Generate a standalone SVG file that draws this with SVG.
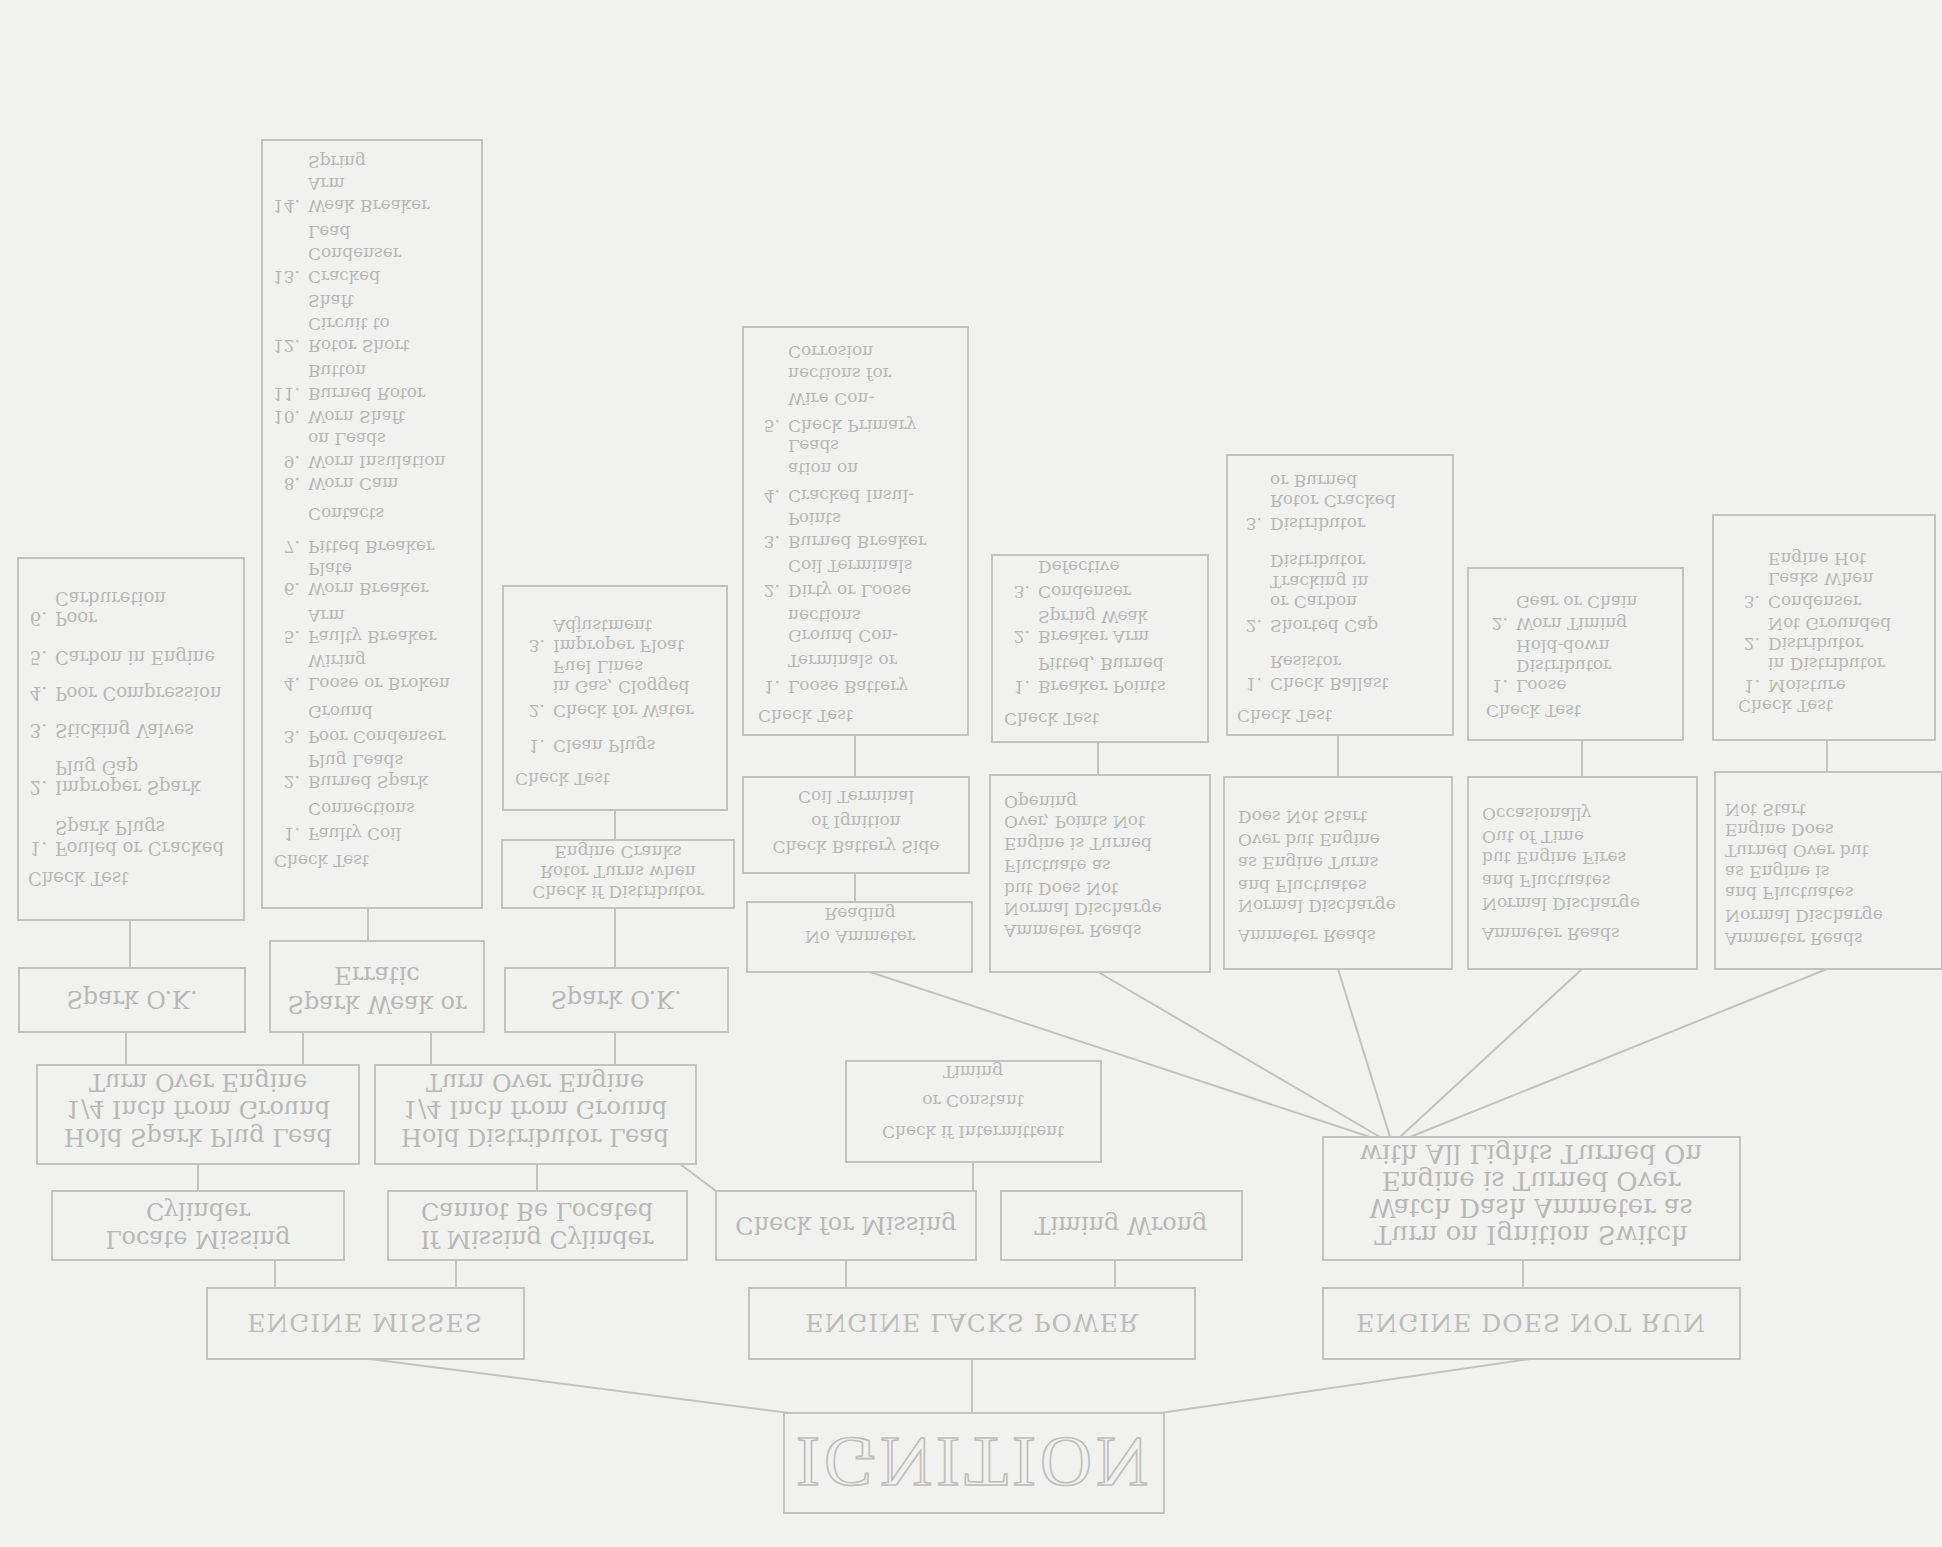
<svg xmlns="http://www.w3.org/2000/svg" width="1942" height="1547" viewBox="0 0 1942 1547">
<style>
  .bx{fill:none;stroke:#c2c2c0;stroke-width:2}
  .ln{fill:none;stroke:#c2c2c0;stroke-width:2}
  .t{font-family:"DejaVu Serif",serif;fill:#b8b8b6;font-size:17px}
  .tl{font-family:"DejaVu Serif",serif;fill:#b8b8b6;font-size:18px}
  .c{text-anchor:middle}
  .n{text-anchor:end}
  .s{font-family:"DejaVu Serif",serif;fill:#b8b8b6;font-size:24px;text-anchor:middle}
  .h{font-family:"DejaVu Serif",serif;fill:#b8b8b6;font-size:24px;text-anchor:middle}
  .hb{font-family:"DejaVu Serif",serif;fill:#b8b8b6;font-size:26px;text-anchor:middle}
  .cap{font-family:"DejaVu Serif",serif;fill:#bcbcba;font-size:25px;text-anchor:middle;letter-spacing:1px}
</style>
<rect width="1942" height="1547" fill="#f1f1ef"/>

<!-- connectors -->
<g id="connectors" class="ln">
  <line x1="130" y1="920" x2="130" y2="968"/>
  <line x1="368" y1="908" x2="368" y2="941"/>
  <line x1="615" y1="810" x2="615" y2="840"/>
  <line x1="615" y1="908" x2="615" y2="968"/>
  <line x1="855" y1="735" x2="855" y2="777"/>
  <line x1="855" y1="873" x2="855" y2="902"/>
  <line x1="1098" y1="742" x2="1098" y2="775"/>
  <line x1="1338" y1="735" x2="1338" y2="777"/>
  <line x1="1582" y1="740" x2="1582" y2="777"/>
  <line x1="1827" y1="740" x2="1827" y2="772"/>
  <line x1="126" y1="1032" x2="126" y2="1065"/>
  <line x1="303" y1="1032" x2="303" y2="1065"/>
  <line x1="431" y1="1032" x2="431" y2="1065"/>
  <line x1="615" y1="1032" x2="615" y2="1065"/>
  <line x1="198" y1="1164" x2="198" y2="1191"/>
  <line x1="537" y1="1164" x2="537" y2="1191"/>
  <line x1="973" y1="1162" x2="973" y2="1191"/>
  <line x1="275" y1="1260" x2="275" y2="1288"/>
  <line x1="456" y1="1260" x2="456" y2="1288"/>
  <line x1="846" y1="1260" x2="846" y2="1288"/>
  <line x1="1115" y1="1260" x2="1115" y2="1288"/>
  <line x1="1523" y1="1260" x2="1523" y2="1288"/>
  <line x1="870" y1="972" x2="1370" y2="1137"/>
  <line x1="1098" y1="972" x2="1380" y2="1137"/>
  <line x1="1338" y1="969" x2="1390" y2="1137"/>
  <line x1="1582" y1="969" x2="1400" y2="1137"/>
  <line x1="1827" y1="969" x2="1410" y2="1137"/>
  <line x1="680" y1="1164" x2="716" y2="1191"/>
  <line x1="370" y1="1359" x2="790" y2="1413"/>
  <line x1="972" y1="1359" x2="972" y2="1413"/>
  <line x1="1530" y1="1359" x2="1160" y2="1413"/>
</g>

<!-- check test: spark O.K. -->
<g id="test-plugs" transform="matrix(1 0 0 -1 0 1478)">
  <rect class="bx" x="18" y="558" width="226" height="362"/>
  <text class="tl" x="28" y="606">Check Test</text>
  <text class="tl n" x="47" y="636">1.</text><text class="tl" x="55" y="636">Fouled or Cracked</text>
  <text class="tl" x="55" y="657">Spark Plugs</text>
  <text class="tl n" x="47" y="697">2.</text><text class="tl" x="55" y="697">Improper Spark</text>
  <text class="tl" x="55" y="717">Plug Gap</text>
  <text class="tl n" x="47" y="754">3.</text><text class="tl" x="55" y="754">Sticking Valves</text>
  <text class="tl n" x="47" y="791">4.</text><text class="tl" x="55" y="791">Poor Compression</text>
  <text class="tl n" x="47" y="827">5.</text><text class="tl" x="55" y="827">Carbon in Engine</text>
  <text class="tl n" x="47" y="866">6.</text><text class="tl" x="55" y="866">Poor</text>
  <text class="tl" x="55" y="886">Carburetion</text>
</g>

<!-- check test: spark weak or erratic -->
<g id="test-weak-spark" transform="matrix(1 0 0 -1 0 1048)">
  <rect class="bx" x="262" y="140" width="220" height="768"/>
  <text class="t" x="274" y="193">Check Test</text>
  <text class="t n" x="300" y="220">1.</text><text class="t" x="308" y="220">Faulty Coil</text>
  <text class="t" x="308" y="245">Connections</text>
  <text class="t n" x="300" y="272">2.</text><text class="t" x="308" y="272">Burned Spark</text>
  <text class="t" x="308" y="293">Plug Leads</text>
  <text class="t n" x="300" y="317">3.</text><text class="t" x="308" y="317">Poor Condenser</text>
  <text class="t" x="308" y="342">Ground</text>
  <text class="t n" x="300" y="370">4.</text><text class="t" x="308" y="370">Loose or Broken</text>
  <text class="t" x="308" y="393">Wiring</text>
  <text class="t n" x="300" y="417">5.</text><text class="t" x="308" y="417">Faulty Breaker</text>
  <text class="t" x="308" y="438">Arm</text>
  <text class="t n" x="300" y="465">6.</text><text class="t" x="308" y="465">Worn Breaker</text>
  <text class="t" x="308" y="485">Plate</text>
  <text class="t n" x="300" y="507">7.</text><text class="t" x="308" y="507">Pitted Breaker</text>
  <text class="t" x="308" y="540">Contacts</text>
  <text class="t n" x="300" y="570">8.</text><text class="t" x="308" y="570">Worn Cam</text>
  <text class="t n" x="300" y="592">9.</text><text class="t" x="308" y="592">Worn Insulation</text>
  <text class="t" x="308" y="615">on Leads</text>
  <text class="t n" x="300" y="637">10.</text><text class="t" x="308" y="637">Worn Shaft</text>
  <text class="t n" x="300" y="660">11.</text><text class="t" x="308" y="660">Burned Rotor</text>
  <text class="t" x="308" y="683">Button</text>
  <text class="t n" x="300" y="708">12.</text><text class="t" x="308" y="708">Rotor Short</text>
  <text class="t" x="308" y="730">Circuit to</text>
  <text class="t" x="308" y="753">Shaft</text>
  <text class="t n" x="300" y="777">13.</text><text class="t" x="308" y="777">Cracked</text>
  <text class="t" x="308" y="800">Condenser</text>
  <text class="t" x="308" y="822">Lead</text>
  <text class="t n" x="300" y="848">14.</text><text class="t" x="308" y="848">Weak Breaker</text>
  <text class="t" x="308" y="870">Arm</text>
  <text class="t" x="308" y="892">Spring</text>
</g>

<!-- check test: fuel -->
<g id="test-fuel" transform="matrix(1 0 0 -1 0 1396)">
  <rect class="bx" x="503" y="586" width="224" height="224"/>
  <text class="t" x="515" y="623">Check Test</text>
  <text class="t n" x="545" y="656">1.</text><text class="t" x="553" y="656">Clean Plugs</text>
  <text class="t n" x="545" y="691">2.</text><text class="t" x="553" y="691">Check for Water</text>
  <text class="t" x="553" y="715">in Gas, Clogged</text>
  <text class="t" x="553" y="735">Fuel Lines</text>
  <text class="t n" x="545" y="756">3.</text><text class="t" x="553" y="756">Improper Float</text>
  <text class="t" x="553" y="776">Adjustment</text>
</g>

<!-- check test: no ammeter reading -->
<g id="test-battery" transform="matrix(1 0 0 -1 0 1062)">
  <rect class="bx" x="743" y="327" width="225" height="408"/>
  <text class="t" x="758" y="352">Check Test</text>
  <text class="t n" x="780" y="381">1.</text><text class="t" x="788" y="381">Loose Battery</text>
  <text class="t" x="788" y="407">Terminals or</text>
  <text class="t" x="788" y="432">Ground Con-</text>
  <text class="t" x="788" y="452">nections</text>
  <text class="t n" x="780" y="477">2.</text><text class="t" x="788" y="477">Dirty or Loose</text>
  <text class="t" x="788" y="502">Coil Terminals</text>
  <text class="t n" x="780" y="526">3.</text><text class="t" x="788" y="526">Burned Breaker</text>
  <text class="t" x="788" y="549">Points</text>
  <text class="t n" x="780" y="572">4.</text><text class="t" x="788" y="572">Cracked Insul-</text>
  <text class="t" x="788" y="599">ation on</text>
  <text class="t" x="788" y="622">Leads</text>
  <text class="t n" x="780" y="642">5.</text><text class="t" x="788" y="642">Check Primary</text>
  <text class="t" x="788" y="669">Wire Con-</text>
  <text class="t" x="788" y="694">nections for</text>
  <text class="t" x="788" y="716">Corrosion</text>
</g>

<!-- check test: points -->
<g id="test-points" transform="matrix(1 0 0 -1 0 1297)">
  <rect class="bx" x="992" y="555" width="216" height="187"/>
  <text class="t" x="1004" y="584">Check Test</text>
  <text class="t n" x="1030" y="616">1.</text><text class="t" x="1038" y="616">Breaker Points</text>
  <text class="t" x="1038" y="639">Pitted, Burned</text>
  <text class="t n" x="1030" y="666">2.</text><text class="t" x="1038" y="666">Breaker Arm</text>
  <text class="t" x="1038" y="686">Spring Weak</text>
  <text class="t n" x="1030" y="711">3.</text><text class="t" x="1038" y="711">Condenser</text>
  <text class="t" x="1038" y="736">Defective</text>
</g>

<!-- check test: secondary circuit -->
<g id="test-secondary" transform="matrix(1 0 0 -1 0 1190)">
  <rect class="bx" x="1227" y="455" width="226" height="280"/>
  <text class="t" x="1237" y="480">Check Test</text>
  <text class="t n" x="1262" y="512">1.</text><text class="t" x="1270" y="512">Check Ballast</text>
  <text class="t" x="1270" y="534">Resistor</text>
  <text class="t n" x="1262" y="570">2.</text><text class="t" x="1270" y="570">Shorted Cap</text>
  <text class="t" x="1270" y="594">or Carbon</text>
  <text class="t" x="1270" y="614">Tracking in</text>
  <text class="t" x="1270" y="635">Distributor</text>
  <text class="t n" x="1262" y="672">3.</text><text class="t" x="1270" y="672">Distributor</text>
  <text class="t" x="1270" y="695">Rotor Cracked</text>
  <text class="t" x="1270" y="715">or Burned</text>
</g>

<!-- check test: distributor drive -->
<g id="test-drive" transform="matrix(1 0 0 -1 0 1308)">
  <rect class="bx" x="1468" y="568" width="215" height="172"/>
  <text class="t" x="1486" y="603">Check Test</text>
  <text class="t n" x="1508" y="628">1.</text><text class="t" x="1516" y="628">Loose</text>
  <text class="t" x="1516" y="648">Distributor</text>
  <text class="t" x="1516" y="668">Hold-down</text>
  <text class="t n" x="1508" y="690">2.</text><text class="t" x="1516" y="690">Worn Timing</text>
  <text class="t" x="1516" y="712">Gear or Chain</text>
</g>

<!-- check test: moisture -->
<g id="test-moisture" transform="matrix(1 0 0 -1 0 1255)">
  <rect class="bx" x="1713" y="515" width="222" height="225"/>
  <text class="t" x="1738" y="555">Check Test</text>
  <text class="t n" x="1760" y="575">1.</text><text class="t" x="1768" y="575">Moisture</text>
  <text class="t" x="1768" y="597">in Distributor</text>
  <text class="t n" x="1760" y="617">2.</text><text class="t" x="1768" y="617">Distributor</text>
  <text class="t" x="1768" y="637">Not Grounded</text>
  <text class="t n" x="1760" y="659">3.</text><text class="t" x="1768" y="659">Condenser</text>
  <text class="t" x="1768" y="682">Leaks When</text>
  <text class="t" x="1768" y="702">Engine Hot</text>
</g>

<!-- ammeter readings -->
<g id="no-reading-check" transform="matrix(1 0 0 -1 0 1650)">
  <rect class="bx" x="743" y="777" width="226" height="96"/>
  <text class="t c" x="856" y="809">Check Battery Side</text>
  <text class="t c" x="856" y="834">of Ignition</text>
  <text class="t c" x="856" y="859">Coil Terminal</text>
</g>
<g id="no-reading" transform="matrix(1 0 0 -1 0 1874)">
  <rect class="bx" x="747" y="902" width="225" height="70"/>
  <text class="t c" x="860" y="943">No Ammeter</text>
  <text class="t c" x="860" y="966">Reading</text>
</g>
<g id="reading-a" transform="matrix(1 0 0 -1 0 1747)">
  <rect class="bx" x="990" y="775" width="220" height="197"/>
  <text class="t" x="1004" y="822">Ammeter Reads</text>
  <text class="t" x="1004" y="844">Normal Discharge</text>
  <text class="t" x="1004" y="864">but Does Not</text>
  <text class="t" x="1004" y="887">Fluctuate as</text>
  <text class="t" x="1004" y="909">Engine is Turned</text>
  <text class="t" x="1004" y="931">Over, Points Not</text>
  <text class="t" x="1004" y="951">Opening</text>
</g>
<g id="reading-b" transform="matrix(1 0 0 -1 0 1746)">
  <rect class="bx" x="1224" y="777" width="228" height="192"/>
  <text class="t" x="1238" y="816">Ammeter Reads</text>
  <text class="t" x="1238" y="846">Normal Discharge</text>
  <text class="t" x="1238" y="866">and Fluctuates</text>
  <text class="t" x="1238" y="889">as Engine Turns</text>
  <text class="t" x="1238" y="912">Over but Engine</text>
  <text class="t" x="1238" y="935">Does Not Start</text>
</g>
<g id="reading-c" transform="matrix(1 0 0 -1 0 1746)">
  <rect class="bx" x="1468" y="777" width="229" height="192"/>
  <text class="t" x="1482" y="818">Ammeter Reads</text>
  <text class="t" x="1482" y="848">Normal Discharge</text>
  <text class="t" x="1482" y="871">and Fluctuates</text>
  <text class="t" x="1482" y="894">but Engine Fires</text>
  <text class="t" x="1482" y="915">Out of Time</text>
  <text class="t" x="1482" y="938">Occasionally</text>
</g>
<g id="reading-d" transform="matrix(1 0 0 -1 0 1741)">
  <rect class="bx" x="1715" y="772" width="227" height="197"/>
  <text class="t" x="1725" y="808">Ammeter Reads</text>
  <text class="t" x="1725" y="831">Normal Discharge</text>
  <text class="t" x="1725" y="854">and Fluctuates</text>
  <text class="t" x="1725" y="875">as Engine is</text>
  <text class="t" x="1725" y="896">Turned Over but</text>
  <text class="t" x="1725" y="917">Engine Does</text>
  <text class="t" x="1725" y="937">Not Start</text>
</g>

<!-- spark results -->
<g id="spark-ok-1" transform="matrix(1 0 0 -1 0 2000)">
  <rect class="bx" x="19" y="968" width="226" height="64"/>
  <text class="s" x="132" y="1009">Spark O.K.</text>
</g>
<g id="spark-weak" transform="matrix(1 0 0 -1 0 1973)">
  <rect class="bx" x="270" y="941" width="214" height="91"/>
  <text class="s" x="377" y="977">Spark Weak or</text>
  <text class="s" x="377" y="1006">Erratic</text>
</g>
<g id="spark-ok-2" transform="matrix(1 0 0 -1 0 2000)">
  <rect class="bx" x="505" y="968" width="223" height="64"/>
  <text class="s" x="616" y="1009">Spark O.K.</text>
</g>
<g id="check-fuel" transform="matrix(1 0 0 -1 0 1748)">
  <rect class="bx" x="502" y="840" width="232" height="68"/>
  <text class="t c" x="618" y="862">Check if Distributor</text>
  <text class="t c" x="618" y="882">Rotor Turns when</text>
  <text class="t c" x="618" y="902">Engine Cranks</text>
</g>

<!-- test procedures -->
<g id="hold-plug-lead" transform="matrix(1 0 0 -1 0 2229)">
  <rect class="bx" x="37" y="1065" width="322" height="99"/>
  <text class="h" x="198" y="1100">Hold Spark Plug Lead</text>
  <text class="h" x="198" y="1128">1/4 Inch from Ground</text>
  <text class="h" x="198" y="1155">Turn Over Engine</text>
</g>
<g id="hold-dist-lead" transform="matrix(1 0 0 -1 0 2229)">
  <rect class="bx" x="375" y="1065" width="321" height="99"/>
  <text class="h" x="535" y="1100">Hold Distributor Lead</text>
  <text class="h" x="535" y="1128">1/4 Inch from Ground</text>
  <text class="h" x="535" y="1155">Turn Over Engine</text>
</g>
<g id="check-intermittent" transform="matrix(1 0 0 -1 0 2223)">
  <rect class="bx" x="846" y="1061" width="255" height="101"/>
  <text class="t c" x="973" y="1097">Check if Intermittent</text>
  <text class="t c" x="973" y="1128">or Constant</text>
  <text class="t c" x="973" y="1157">Timing</text>
</g>

<g id="locate-missing" transform="matrix(1 0 0 -1 0 2451)">
  <rect class="bx" x="52" y="1191" width="292" height="69"/>
  <text class="h" x="198" y="1220">Locate Missing</text>
  <text class="h" x="198" y="1248">Cylinder</text>
</g>
<g id="cannot-locate" transform="matrix(1 0 0 -1 0 2451)">
  <rect class="bx" x="388" y="1191" width="299" height="69"/>
  <text class="h" x="537" y="1220">If Missing Cylinder</text>
  <text class="h" x="537" y="1248">Cannot Be Located</text>
</g>
<g id="check-missing" transform="matrix(1 0 0 -1 0 2451)">
  <rect class="bx" x="716" y="1191" width="260" height="69"/>
  <text class="h" x="846" y="1234">Check for Missing</text>
</g>
<g id="timing-wrong" transform="matrix(1 0 0 -1 0 2451)">
  <rect class="bx" x="1001" y="1191" width="241" height="69"/>
  <text class="h" x="1121" y="1234">Timing Wrong</text>
</g>
<g id="ammeter-test" transform="matrix(1 0 0 -1 0 2397)">
  <rect class="bx" x="1323" y="1137" width="417" height="123"/>
  <text class="hb" x="1531" y="1171">Turn on Ignition Switch</text>
  <text class="hb" x="1531" y="1198">Watch Dash Ammeter as</text>
  <text class="hb" x="1531" y="1225">Engine is Turned Over</text>
  <text class="hb" x="1531" y="1252">with All Lights Turned On</text>
</g>

<!-- symptoms -->
<g id="engine-misses" transform="matrix(1 0 0 -1 0 2647)">
  <rect class="bx" x="207" y="1288" width="317" height="71"/>
  <text class="cap" x="365" y="1333">ENGINE MISSES</text>
</g>
<g id="engine-lacks-power" transform="matrix(1 0 0 -1 0 2647)">
  <rect class="bx" x="749" y="1288" width="446" height="71"/>
  <text class="cap" x="972" y="1333">ENGINE LACKS POWER</text>
</g>
<g id="engine-does-not-run" transform="matrix(1 0 0 -1 0 2647)">
  <rect class="bx" x="1323" y="1288" width="417" height="71"/>
  <text class="cap" x="1531" y="1333">ENGINE DOES NOT RUN</text>
</g>

<!-- root -->
<g id="ignition" transform="matrix(1 0 0 -1 0 2926)">
  <rect class="bx" x="784" y="1413" width="380" height="100"/>
  <text x="974" y="1488" font-family="Liberation Serif, serif" font-size="72" fill="none" stroke="#bebebc" stroke-width="1.6" text-anchor="middle" letter-spacing="4">IGNITION</text>
</g>
</svg>
